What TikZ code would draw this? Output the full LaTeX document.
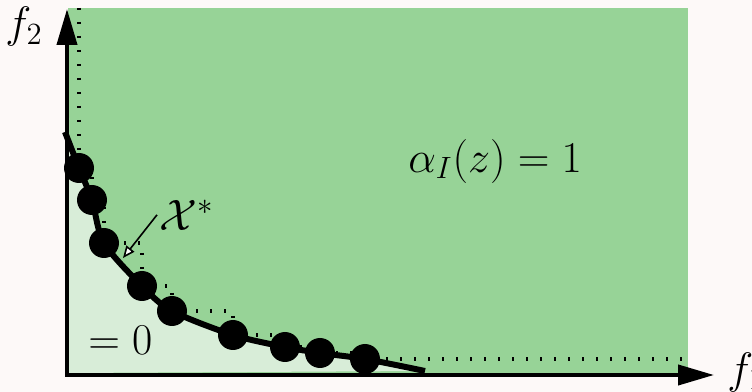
\documentclass[tikz,border=0pt]{standalone}
\usepackage{fix-cm}
\usetikzlibrary{arrows.meta}
\definecolor{bgcol}{HTML}{FDF9F8}
\definecolor{domgreen}{HTML}{97D397}
\definecolor{nondomgreen}{HTML}{D8EDD8}

\begin{document}
\begin{tikzpicture}[x=0.5pt, y=0.5pt,
        every node/.style={font=\fontsize{22}{26}\selectfont, inner sep=1pt},
        paretonode/.style={circle, fill=black, inner sep=0pt, minimum size=15pt},
        frontline/.style={black, line width=3pt, line join=round},
        staircase/.style={black, line width=2pt, dash pattern=on 1pt off 6pt},
        axisline/.style={black, line width=2pt, {Triangle[length=18pt, width=10pt]}-{Triangle[length=18pt, width=10pt]}},
        pointer/.style={black, line width=0.8pt, -{Triangle[fill=white, length=6pt, width=5pt]}},
        ]
            \useasboundingbox (0,0) rectangle (752,392);
            \fill[bgcol] (0,0) rectangle (752,392);
            \fill[domgreen] (68,19) rectangle (688,384);

            \coordinate (c0) at (65,260);
            \coordinate (q1) at (79,224);
            \coordinate (q2) at (92,192);
            \coordinate (q3) at (104,149);
            \coordinate (q4) at (142,106);
            \coordinate (q5) at (172,81);
            \coordinate (q6) at (233,57);
            \coordinate (q7) at (285,45);
            \coordinate (q8) at (320,39);
            \coordinate (q9) at (365,33);
            \coordinate (c1) at (425,21);
            \coordinate (stairtop) at (79,384);
            \coordinate (stairend) at (688,33);

            \fill[nondomgreen] (69,19) -- (69,274) -- plot[smooth, tension=0.5] coordinates {(c0) (q1) (q2) (q3) (q4) (q5) (q6) (q7) (q8) (q9) (c1)} -- cycle;
            \draw[staircase] (stairtop) -- (q1) -| (q2) -| (q3) -| (q4) -| (q5) -| (q6) -| (q7) -| (q8) -| (q9) -- (stairend);
            \draw[frontline] plot[smooth, tension=0.5] coordinates {(c0) (q1) (q2) (q3) (q4) (q5) (q6) (q7) (q8) (q9) (c1)};

            \node[paretonode] (p1) at (q1) {};
            \node[paretonode] (p2) at (q2) {};
            \node[paretonode] (p3) at (q3) {};
            \node[paretonode] (p4) at (q4) {};
            \node[paretonode] (p5) at (q5) {};
            \node[paretonode] (p6) at (q6) {};
            \node[paretonode] (p7) at (q7) {};
            \node[paretonode] (p8) at (q8) {};
            \node[paretonode] (p9) at (q9) {};

            \coordinate (origin) at (67,17);
            \coordinate (ytip) at (67,383);
            \coordinate (xtip) at (714,17);
            \draw[axisline] (ytip) -- (origin) -- (xtip);

            \node[anchor=base east] (f2) at (45,354) {$f_2$};
            \node[anchor=base west] (f1) at (725,9) {$f_1$};
            \node[anchor=base west] (alpha) at (406,220) {$\alpha_I(z) = 1$};
            \node[anchor=base west] (zero) at (86,37) {$= 0$};
            \node[anchor=base west] (xstar) at (157,162) {$\mathcal{X}^*$};

            \coordinate (xarrow) at (123,134);
            \draw[pointer] (xstar.west) -- (xarrow);
            \end{tikzpicture}
\end{document}
